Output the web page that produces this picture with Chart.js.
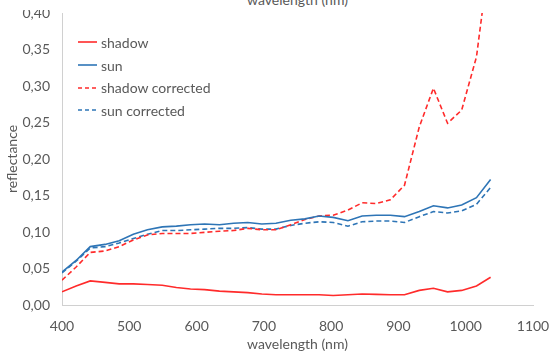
<!DOCTYPE html>
<html>
<head>
<meta charset="utf-8">
<script src="https://cdn.jsdelivr.net/npm/chart.js@4/dist/chart.umd.min.js"></script>
<style>
  html, body { margin: 0; padding: 0; background: #fff; }
  #wrap { position: relative; width: 549px; height: 355px; font-family: Lato, "Open Sans", sans-serif; color: #595959; }
  #cut { position: absolute; left: 0; top: 0; width: 549px; height: 10px; background: #fff; overflow: hidden; }
  #cut div { position: absolute; left: 0; top: -9px; width: 595px; text-align: center; font-size: 14px; line-height: 17px; }
  #legend { position: absolute; left: 78px; top: 31px; font-size: 14px; }
  #legend .row { height: 22.7px; display: flex; align-items: center; }
  #legend svg { margin-right: 4px; }
</style>
</head>
<body>
<div id="wrap">
  <canvas id="chart" width="549" height="355"></canvas>
  <div id="cut"><div>wavelength (nm)</div></div>
  <div id="legend"></div>
</div>
<script>
  const wavelength = [400, 421, 442, 464, 485, 506, 527, 549, 570, 591, 612, 634, 655, 676, 697, 718,
                      740, 761, 782, 803, 825, 846, 867, 888, 909, 931, 952, 973, 994, 1016, 1037];

  const shadow = [0.018, 0.026, 0.033, 0.031, 0.029, 0.029, 0.028, 0.027, 0.024, 0.022, 0.021, 0.019, 0.018, 0.017, 0.015, 0.014,
                  0.014, 0.014, 0.014, 0.013, 0.014, 0.015, 0.0145, 0.014, 0.014, 0.020, 0.023, 0.018, 0.020, 0.026, 0.038];
  const sun = [0.045, 0.061, 0.080, 0.083, 0.088, 0.097, 0.103, 0.107, 0.108, 0.110, 0.111, 0.110, 0.112, 0.113, 0.111, 0.112,
               0.116, 0.118, 0.122, 0.120, 0.1155, 0.122, 0.123, 0.123, 0.121, 0.128, 0.136, 0.133, 0.137, 0.147, 0.172];
  const shadowCorrected = [0.034, 0.052, 0.072, 0.074, 0.080, 0.089, 0.096, 0.098, 0.098, 0.098, 0.0995, 0.101, 0.102, 0.105, 0.103, 0.103,
                           0.110, 0.117, 0.122, 0.123, 0.130, 0.140, 0.139, 0.144, 0.164, 0.244, 0.297, 0.249, 0.267, 0.340, 0.49];
  const sunCorrected = [0.044, 0.060, 0.078, 0.080, 0.085, 0.091, 0.097, 0.102, 0.102, 0.103, 0.104, 0.105, 0.105, 0.106, 0.104, 0.104,
                        0.109, 0.112, 0.114, 0.113, 0.108, 0.114, 0.115, 0.115, 0.113, 0.121, 0.128, 0.126, 0.129, 0.138, 0.161];

  const RED = '#ff2b2b';
  const BLUE = '#2e75b6';
  const DASH = [5, 3];

  const series = [
    { label: 'shadow',           data: shadow,          color: RED,  dash: [] },
    { label: 'sun',              data: sun,             color: BLUE, dash: [] },
    { label: 'shadow corrected', data: shadowCorrected, color: RED,  dash: DASH },
    { label: 'sun corrected',    data: sunCorrected,    color: BLUE, dash: DASH },
  ];

  const font = { family: 'Lato, "Open Sans", sans-serif', size: 14 };
  const grey = '#595959';
  const fmt = v => v.toFixed(2).replace('.', ',');

  new Chart(document.getElementById('chart'), {
    type: 'line',
    data: {
      datasets: series.map(s => ({
        label: s.label,
        data: s.data.map((v, i) => ({ x: wavelength[i], y: v })),
        borderColor: s.color,
        borderWidth: 1.6,
        borderDash: s.dash,
        pointRadius: 0,
        tension: 0,
        fill: false,
      }))
    },
    options: {
      responsive: false,
      animation: false,
      layout: { padding: { left: 0, right: 16, top: 13, bottom: 0 } },
      plugins: { legend: { display: false }, tooltip: { enabled: false } },
      scales: {
        x: {
          type: 'linear', min: 400, max: 1100,
          grid: { display: false, drawTicks: false },
          border: { display: true, color: '#d0d0d0', width: 1 },
          ticks: { stepSize: 100, color: grey, font, padding: 13, maxRotation: 0, callback: v => String(v) },
          title: { display: true, text: 'wavelength (nm)', color: grey, font, padding: { top: 0, bottom: 2 } },
          afterFit: s => { s.height = 50; s.paddingLeft = 0; s.paddingRight = 0; }
        },
        y: {
          min: 0, max: 0.4,
          grid: { display: false, drawTicks: false },
          border: { display: true, color: '#d0d0d0', width: 1 },
          ticks: { stepSize: 0.05, color: grey, font, padding: 12, callback: v => fmt(v) },
          title: { display: true, text: 'reflectance', color: grey, font, padding: { top: 4, bottom: 0 } },
          afterFit: s => { s.width = 62; s.paddingTop = 0; s.paddingBottom = 0; }
        }
      }
    }
  });

  const legend = document.getElementById('legend');
  series.forEach(s => {
    const row = document.createElement('div');
    row.className = 'row';
    row.innerHTML = `<svg width="19" height="4"><line x1="0" y1="2" x2="19" y2="2" stroke="${s.color}" stroke-width="1.6" stroke-dasharray="${s.dash.length ? '4,3' : 'none'}"/></svg><span>${s.label}</span>`;
    legend.appendChild(row);
  });
</script>
</body>
</html>
